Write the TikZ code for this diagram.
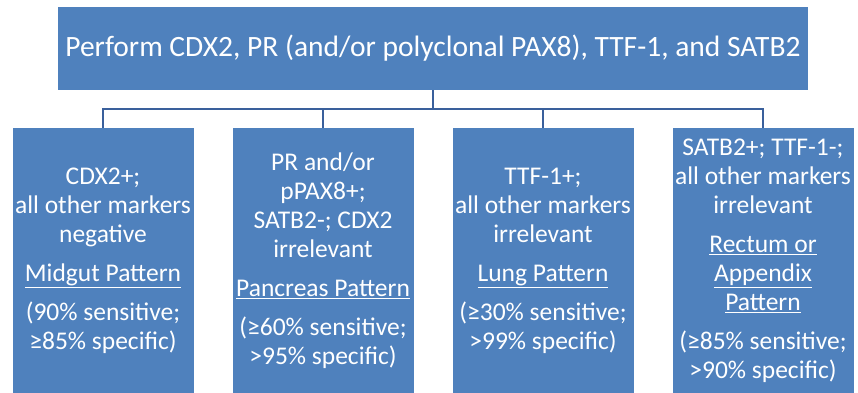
\documentclass[tikz,border=0pt]{standalone}
\usepackage{fontspec}
\setmainfont{Carlito}
\usetikzlibrary{positioning}
\definecolor{boxblue}{HTML}{4F81BD}
\definecolor{lineblue}{HTML}{3A609C}
\tikzset{
  topbox/.style={fill=boxblue, text=white, minimum width=750pt, minimum height=83pt,
    inner sep=0pt, font=\fontsize{29.5}{34}\selectfont},
  leafbox/.style={fill=boxblue, text=white, minimum width=181pt, minimum height=266pt,
    inner sep=0pt, align=center, font=\fontsize{25.5}{29}\selectfont},
  conn/.style={draw=lineblue, line width=2pt}
}
\begin{document}
\begin{tikzpicture}[x=1pt, y=-1pt]
  \useasboundingbox (0,0) rectangle (858,392);
  \begin{scope}
  \clip (0,0) rectangle (858,392);
  \node[topbox] (top) at (433,48.5) {Perform CDX2, PR (and/or polyclonal PAX8), TTF-1, and SATB2};
  \node[leafbox] (b1) at (103,261) {CDX2+;\\ all other markers\\ negative\\[10pt]
    \underline{Midgut Pattern}\\[10pt] (90\% sensitive;\\ ≥85\% specific)};
  \node[leafbox] (b2) at (323,261) {PR and/or\\ pPAX8+;\\ SATB2-; CDX2\\ irrelevant\\[10pt]
    \underline{Pancreas Pattern}\\[10pt] (≥60\% sensitive;\\ >95\% specific)};
  \node[leafbox] (b3) at (543,261) {TTF-1+;\\ all other markers\\ irrelevant\\[10pt]
    \underline{Lung Pattern}\\[10pt] (≥30\% sensitive;\\ >99\% specific)};
  \node[leafbox] (b4) at (763,261) {SATB2+; TTF-1-;\\ all other markers\\ irrelevant\\[10pt]
    \underline{Rectum or}\\ \underline{Appendix}\\ \underline{Pattern}\\[10pt]
    (≥85\% sensitive;\\ >90\% specific)};
  \end{scope}
  % tree lines
  \coordinate (bus) at (433,109);
  \draw[conn] (top.south) -- (bus);
  \foreach \i in {1,...,4}
    \draw[conn] (bus) -| (b\i.north);
\end{tikzpicture}
\end{document}
